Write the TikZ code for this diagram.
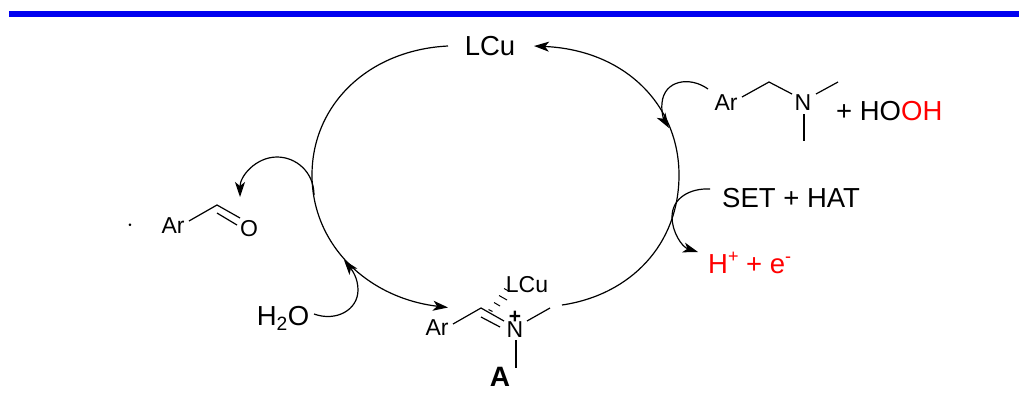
\documentclass[tikz,border=0pt]{standalone}
\usepackage{fontspec}
\setmainfont{Liberation Sans}
\usetikzlibrary{arrows.meta}
\definecolor{barblue}{RGB}{0,0,240}
\newcommand{\upmark}[1]{\raisebox{0.42em}{\fontsize{18}{18}\selectfont #1}}
\tikzset{
  big/.style={inner sep=0pt,font=\fontsize{27.5}{29}\selectfont},
  atom/.style={inner sep=0pt,font=\fontsize{23}{25}\selectfont},
  bond/.style={line width=1.2pt},
  curve/.style={line width=1.2pt},
  arrowed/.style={curve,-{Stealth[length=15pt,width=10pt,inset=4pt]}},
}
\begin{document}
\begin{tikzpicture}[x=1pt,y=-1pt]
\useasboundingbox (0,0) rectangle (1019,400);
\fill[barblue] (9,11) rectangle (1019,17);
% labels
\node[big] (lcu) at (490,46.5) {LCu};
\node[big,anchor=west] (hooh) at (836,111) {+ HO\textcolor{red}{OH}};
\node[big,anchor=west] (set) at (722,198) {SET + HAT};
\node[big,anchor=west,text=red] (hplus) at (708,263) {H\upmark{+} + e\upmark{-}};
\node[big] (water) at (283,318) {H\textsubscript{2}O};
\node[atom,font=\fontsize{30}{30}\bfseries\selectfont] (dot) at (130,226) {$\cdot$};
\node[atom] (ar1) at (173,226) {Ar};
\node[atom] (o1) at (249,229) {O};
\node[atom] (ar2) at (726,103) {Ar};
\node[atom] (n2) at (803,103) {N};
\node[atom] (ar3) at (437,328) {Ar};
\node[atom] (n3) at (515,330) {N};
\node[atom] (lcu3) at (527,285) {LCu};
\node[atom,font=\fontsize{21}{21}\bfseries\selectfont] (plus) at (515,317) {+};
\node[atom,font=\fontsize{28}{30}\bfseries\selectfont] (labela) at (500,377) {A};
% bond coordinates
\coordinate (c1a) at (189,221); \coordinate (c1b) at (217,205); \coordinate (c1c) at (240,218);
\coordinate (c1d) at (217,213); \coordinate (c1e) at (237,225);
\coordinate (c2a) at (742,97); \coordinate (c2b) at (769,82); \coordinate (c2c) at (792,94);
\coordinate (c2d) at (816,94); \coordinate (c2e) at (838,82);
\coordinate (c2f) at (804,114); \coordinate (c2g) at (804,141);
\coordinate (c3a) at (453,324); \coordinate (c3b) at (481,308); \coordinate (c3c) at (504,321);
\coordinate (c3d) at (481,317); \coordinate (c3e) at (500,327);
\coordinate (c3f) at (527,321); \coordinate (c3g) at (550,308);
\coordinate (c3h) at (516,340); \coordinate (c3i) at (516,368);
% bonds
\draw[bond] (c1a) -- (c1b) -- (c1c);
\draw[bond] (c1d) -- (c1e);
\draw[bond] (c2a) -- (c2b) -- (c2c);
\draw[bond] (c2d) -- (c2e);
\draw[bond] (c2f) -- (c2g);
\draw[bond] (c3a) -- (c3b) -- (c3c);
\draw[bond] (c3d) -- (c3e);
\draw[bond] (c3f) -- (c3g);
\draw[bond] (c3h) -- (c3i);
% hashed bond
\draw[line width=1pt] (488.5,309.5) -- (492.5,311.5)
  (494,302.5) -- (500,306)
  (499,295.5) -- (507,300)
  (504,288.5) -- (508.5,291);
% cycle
\coordinate (a1s) at (448,46); \coordinate (a1m) at (312,175); \coordinate (a1e) at (448,307.5);
\coordinate (a2s) at (562,305); \coordinate (a2m) at (679,175); \coordinate (a2e) at (534,46);
\draw[arrowed] (a1s) .. controls (368,50) and (312,105) .. (a1m)
   .. controls (312,245) and (368,298) .. (a1e);
\draw[arrowed] (a2s) .. controls (630,295) and (679,245) .. (a2m)
   .. controls (679,105) and (625,50) .. (a2e);
% side arrows
\coordinate (s1) at (708,89); \coordinate (s1m) at (662,103); \coordinate (s1t) at (669,128);
\draw[arrowed] (s1) .. controls (690,76) and (664,80) .. (s1m) .. controls (661,112) and (664,120) .. (s1t);
\coordinate (s2) at (710,189); \coordinate (s2m) at (672,217); \coordinate (s2t) at (698,252);
\draw[arrowed] (s2) .. controls (690,188) and (672,198) .. (s2m) .. controls (672,232) and (682,247) .. (s2t);
\coordinate (s3) at (314,195); \coordinate (s3m) at (277,157); \coordinate (s3t) at (240,197);
\draw[arrowed] (s3) .. controls (314,172) and (296,157) .. (s3m) .. controls (256,157) and (240,176) .. (s3t);
\coordinate (s4) at (314,314); \coordinate (s4m) at (358,290); \coordinate (s4t) at (344,260);
\draw[arrowed] (s4) .. controls (336,322) and (358,310) .. (s4m) .. controls (358,278) and (352,270) .. (s4t);
\end{tikzpicture}
\end{document}
